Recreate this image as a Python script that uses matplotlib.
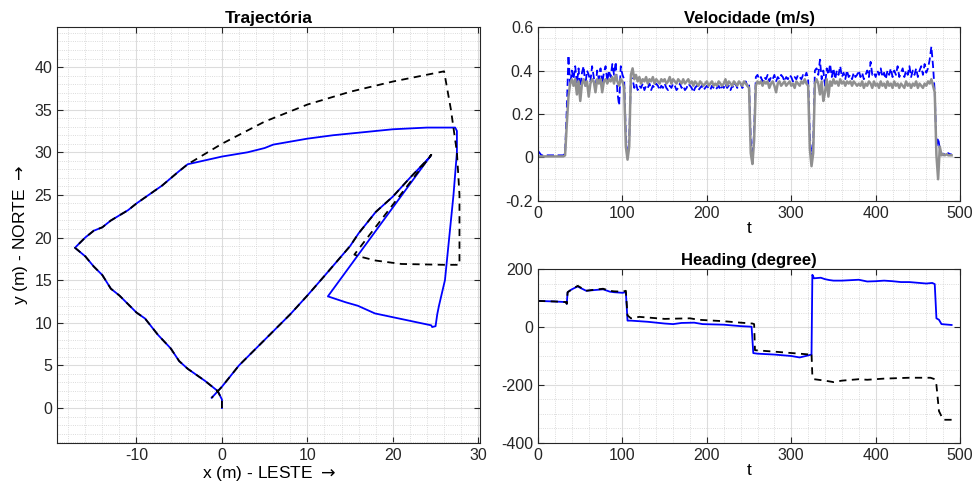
import numpy as np
import matplotlib
matplotlib.use("Agg")
import matplotlib.pyplot as plt
from matplotlib.ticker import MultipleLocator

plt.rcParams['font.family'] = ['Liberation Sans', 'DejaVu Sans']
plt.rcParams['axes.unicode_minus'] = False
plt.rcParams['mathtext.fontset'] = 'dejavusans'

# trajectory, estimated (blue)
est_x = [0.0, 0.0, -0.5, -2.0, -4.0, -5.0, -6.0, -7.5, -9.0, -10.0, -12.0, -13.0, -14.0, -15.0,
         -16.0, -17.2, -16.0, -15.0, -14.0, -13.0, -11.0, -10.0, -9.0, -7.0, -5.0, -4.0, 0.0, 3.0,
         5.0, 6.0, 10.0, 13.0, 17.0, 20.0, 24.0, 27.3, 27.5, 27.5, 27.1, 26.6, 26.1, 25.4, 25.2,
         25.0, 24.6, 24.5, 17.9, 15.9, 14.5, 12.4, 24.5, 24.2, 22.0, 20.0, 18.0, 16.0, 15.0, 12.0,
         10.0, 8.0, 6.0, 4.0, 2.0, 0.0, -1.2]
est_y = [0.0, 1.0, 2.0, 3.2, 4.6, 5.5, 7.0, 8.6, 10.5, 11.2, 13.2, 14.0, 15.6, 16.6,
         17.8, 18.8, 20.0, 20.8, 21.2, 22.0, 23.2, 24.0, 24.7, 26.1, 27.8, 28.6, 29.5, 30.0,
         30.5, 30.9, 31.6, 32.0, 32.4, 32.7, 32.9, 32.9, 32.5, 30.0, 25.0, 20.0, 15.0, 12.0, 11.0,
         9.6, 9.5, 9.7, 11.1, 12.0, 12.4, 13.1, 29.7, 29.3, 27.0, 24.8, 23.0, 20.5, 19.0, 15.5,
         13.2, 11.0, 9.0, 7.0, 5.0, 2.5, 1.2]

# trajectory, reference (black dashed)
ref_x = [0.0, 0.0, -0.5, -2.0, -4.0, -5.0, -6.0, -7.5, -9.0, -10.0, -12.0, -13.0, -14.0, -15.0,
         -16.0, -17.2, -16.0, -15.0, -14.0, -13.0, -11.0, -10.0, -9.0, -7.0, -5.0, -4.0, 0.0, 5.0,
         10.0, 15.0, 20.0, 26.0, 26.8, 27.5, 27.8, 27.8, 27.8, 26.0, 21.0, 18.0, 16.0, 15.5, 24.5,
         24.2, 22.0, 20.0, 18.0, 16.0, 15.0, 12.0, 10.0, 8.0, 6.0, 4.0, 2.0, 0.0, -1.2]
ref_y = [0.0, 1.0, 2.0, 3.2, 4.6, 5.5, 7.0, 8.6, 10.5, 11.2, 13.2, 14.0, 15.6, 16.6,
         17.8, 18.8, 20.0, 20.8, 21.2, 22.0, 23.2, 24.0, 24.7, 26.1, 27.8, 28.6, 31.0, 33.6,
         35.6, 37.1, 38.3, 39.5, 35.0, 30.0, 25.0, 20.0, 16.8, 16.8, 16.9, 17.3, 17.8, 18.0, 29.7,
         29.3, 27.0, 24.8, 23.0, 20.5, 19.0, 15.5, 13.2, 11.0, 9.0, 7.0, 5.0, 2.5, 1.2]

# velocity, sampled every 2 s
vel_blue = [0.03, 0.02, 0.01, 0.01, 0.01, 0.01, 0.01, 0.01, 0.01, 0.01, 0.01, 0.01, 0.01, 0.01, 0.01, 0.01,
            0.02, 0.22, 0.47, 0.33, 0.40, 0.36, 0.42, 0.34, 0.41, 0.30,
            0.39, 0.42, 0.33, 0.40, 0.38, 0.35, 0.42, 0.37, 0.31, 0.40,
            0.36, 0.41, 0.34, 0.39, 0.42, 0.35, 0.40, 0.37, 0.43, 0.38,
            0.44, 0.30, 0.24, 0.42, 0.38, 0.36, 0.10, 0.00, 0.08, 0.37,
            0.36, 0.32, 0.34, 0.31, 0.33, 0.32, 0.34, 0.31, 0.33, 0.32,
            0.34, 0.31, 0.33, 0.32, 0.34, 0.33, 0.31, 0.33, 0.32, 0.34,
            0.32, 0.31, 0.33, 0.32, 0.34, 0.33, 0.31, 0.32, 0.34, 0.32,
            0.33, 0.31, 0.32, 0.34, 0.33, 0.32, 0.30, 0.32, 0.33, 0.31,
            0.32, 0.33, 0.31, 0.32, 0.33, 0.32, 0.31, 0.33, 0.32, 0.31,
            0.32, 0.33, 0.31, 0.33, 0.32, 0.34, 0.32, 0.33, 0.31, 0.33,
            0.32, 0.34, 0.32, 0.33, 0.34, 0.32, 0.33, 0.35, 0.33, 0.34,
            0.08, 0.00, 0.12, 0.37, 0.38, 0.36, 0.37, 0.35, 0.37, 0.36,
            0.38, 0.35, 0.37, 0.36, 0.38, 0.35, 0.37, 0.36, 0.38, 0.37,
            0.35, 0.37, 0.36, 0.38, 0.37, 0.35, 0.37, 0.36, 0.38, 0.37,
            0.36, 0.38, 0.37, 0.39, 0.36, 0.10, 0.00, 0.06, 0.40, 0.41,
            0.38, 0.45, 0.36, 0.40, 0.33, 0.41, 0.38, 0.43, 0.37, 0.41,
            0.36, 0.40, 0.38, 0.42, 0.37, 0.39, 0.36, 0.40, 0.37, 0.38,
            0.36, 0.39, 0.37, 0.38, 0.40, 0.37, 0.39, 0.36, 0.38, 0.40,
            0.37, 0.44, 0.38, 0.39, 0.37, 0.40, 0.38, 0.41, 0.37, 0.39,
            0.36, 0.40, 0.38, 0.41, 0.37, 0.40, 0.38, 0.42, 0.37, 0.39,
            0.41, 0.37, 0.40, 0.38, 0.42, 0.37, 0.40, 0.38, 0.41, 0.37,
            0.40, 0.42, 0.38, 0.43, 0.39, 0.41, 0.45, 0.51, 0.42, 0.30,
            0.05, 0.09, 0.04, 0.02, 0.01, 0.02, 0.015, 0.02, 0.015, 0.015]
vel_gray = [0.005, 0.005, 0.005, 0.005, 0.005, 0.005, 0.005, 0.005, 0.005, 0.005, 0.005, 0.005, 0.005, 0.005, 0.005, 0.005,
            0.01, 0.15, 0.28, 0.34, 0.36, 0.33, 0.36, 0.29, 0.35, 0.26,
            0.34, 0.36, 0.33, 0.35, 0.28, 0.34, 0.36, 0.35, 0.30, 0.36,
            0.34, 0.36, 0.30, 0.35, 0.36, 0.34, 0.36, 0.35, 0.37, 0.34,
            0.38, 0.35, 0.33, 0.36, 0.35, 0.32, 0.05, -0.01, 0.05, 0.38,
            0.41, 0.36, 0.38, 0.35, 0.37, 0.34, 0.36, 0.35, 0.37, 0.34,
            0.36, 0.35, 0.37, 0.34, 0.36, 0.35, 0.34, 0.36, 0.35, 0.36,
            0.34, 0.35, 0.37, 0.34, 0.36, 0.35, 0.34, 0.36, 0.35, 0.34,
            0.36, 0.34, 0.35, 0.36, 0.34, 0.35, 0.33, 0.35, 0.34, 0.33,
            0.35, 0.34, 0.33, 0.34, 0.35, 0.33, 0.34, 0.35, 0.33, 0.34,
            0.33, 0.35, 0.34, 0.33, 0.34, 0.36, 0.33, 0.35, 0.34, 0.33,
            0.35, 0.34, 0.33, 0.35, 0.34, 0.33, 0.35, 0.34, 0.33, 0.32,
            0.02, -0.03, 0.08, 0.33, 0.35, 0.34, 0.35, 0.33, 0.35, 0.34,
            0.35, 0.32, 0.34, 0.35, 0.33, 0.30, 0.34, 0.35, 0.33, 0.34,
            0.35, 0.33, 0.34, 0.35, 0.33, 0.34, 0.32, 0.35, 0.34, 0.33,
            0.35, 0.34, 0.36, 0.34, 0.33, 0.04, -0.04, 0.02, 0.34, 0.36,
            0.34, 0.29, 0.35, 0.26, 0.30, 0.36, 0.28, 0.35, 0.33, 0.36,
            0.34, 0.35, 0.33, 0.36, 0.34, 0.35, 0.33, 0.35, 0.34, 0.35,
            0.33, 0.35, 0.34, 0.33, 0.34, 0.33, 0.35, 0.32, 0.34, 0.33,
            0.35, 0.34, 0.32, 0.35, 0.33, 0.34, 0.32, 0.35, 0.33, 0.34,
            0.32, 0.35, 0.33, 0.34, 0.32, 0.35, 0.33, 0.34, 0.32, 0.34,
            0.33, 0.32, 0.35, 0.33, 0.34, 0.32, 0.34, 0.33, 0.35, 0.32,
            0.34, 0.33, 0.32, 0.34, 0.33, 0.35, 0.34, 0.36, 0.33, 0.30,
            0.01, -0.10, 0.05, 0.01, 0.015, 0.01, 0.015, 0.01, 0.01, 0.01]
t_blue = np.arange(len(vel_blue)) * 2
t_gray = np.arange(len(vel_gray)) * 2

# heading
hd_t = [0, 20, 33, 34, 35, 40, 47, 50, 57, 65, 77, 85, 90, 100, 104, 106, 110, 130, 150, 160, 170,
        185, 195, 220, 240, 253, 255, 260, 280, 300, 310, 320, 324, 325, 327, 335, 340, 345, 350,
        360, 380, 390, 400, 410, 420, 430, 440, 460, 467, 470, 472, 475, 478, 490]
hd_blue = [90, 88, 86, 80, 120, 130, 140, 135, 125, 127, 130, 122, 120, 118, 120, 22, 22, 18, 12, 10, 14,
           15, 10, 8, 3, 1, -90, -92, -95, -100, -105, -98, -95, 180, 168, 170, 165, 162, 160,
           160, 163, 157, 158, 160, 158, 155, 155, 150, 152, 148, 30, 25, 10, 7]
hd_ref_t = [0, 20, 33, 34, 35, 40, 47, 50, 57, 65, 77, 85, 90, 100, 104, 106, 110, 120, 150, 180,
            190, 220, 240, 254, 256, 257, 280, 310, 322, 324, 325, 327, 340, 350, 360, 380, 390,
            410, 440, 465, 470, 472, 475, 480, 490]
hd_ref = [90, 88, 86, 80, 120, 130, 142, 137, 125, 128, 132, 125, 123, 122, 125, 40, 30, 35, 28, 30,
          25, 20, 15, 12, 10, -80, -85, -92, -95, -90, -170, -180, -185, -190, -185, -180, -182,
          -178, -175, -175, -180, -200, -290, -320, -320]

fig = plt.figure(figsize=(9.73, 4.97), dpi=100)
ax1 = fig.add_axes([0.0586, 0.1087, 0.4347, 0.837])
ax2 = fig.add_axes([0.553, 0.5956, 0.4337, 0.350])
ax3 = fig.add_axes([0.553, 0.1087, 0.4337, 0.350])

ax1.plot(est_x, est_y, color='blue', lw=1.3)
ax1.plot(ref_x, ref_y, color='black', lw=1.3, ls=(0, (4, 3)))
ax1.set_xlim(-19.3, 30.2)
ax1.set_ylim(-4.1, 44.7)
ax1.xaxis.set_major_locator(MultipleLocator(10))
ax1.xaxis.set_minor_locator(MultipleLocator(2))
ax1.yaxis.set_major_locator(MultipleLocator(5))
ax1.yaxis.set_minor_locator(MultipleLocator(1))
ax1.set_title('Trajectória', fontweight='bold', fontsize=12.5, pad=3)
ax1.set_xlabel(r'x (m) - LESTE $\rightarrow$', fontsize=12.5, labelpad=1)
ax1.set_ylabel(r'y (m) - NORTE $\rightarrow$', fontsize=12.5, labelpad=3)

ax2.plot(t_blue, vel_blue, color='blue', lw=1.3, ls=(0, (4, 2)))
ax2.plot(t_gray, vel_gray, color='#909090', lw=1.8)
ax2.set_xlim(0, 500)
ax2.set_ylim(-0.2, 0.6)
ax2.xaxis.set_major_locator(MultipleLocator(100))
ax2.xaxis.set_minor_locator(MultipleLocator(20))
ax2.yaxis.set_major_locator(MultipleLocator(0.2))
ax2.yaxis.set_minor_locator(MultipleLocator(0.05))
ax2.set_yticks([-0.2, 0, 0.2, 0.4, 0.6])
ax2.set_yticklabels(['-0.2', '0', '0.2', '0.4', '0.6'])
ax2.set_title('Velocidade (m/s)', fontweight='bold', fontsize=12, pad=3)
ax2.set_xlabel('t', fontsize=12.5, labelpad=0)

ax3.plot(hd_t, hd_blue, color='blue', lw=1.3)
ax3.plot(hd_ref_t, hd_ref, color='black', lw=1.3, ls=(0, (4, 3)))
ax3.set_xlim(0, 500)
ax3.set_ylim(-400, 200)
ax3.xaxis.set_major_locator(MultipleLocator(100))
ax3.xaxis.set_minor_locator(MultipleLocator(20))
ax3.yaxis.set_major_locator(MultipleLocator(200))
ax3.yaxis.set_minor_locator(MultipleLocator(50))
ax3.set_title('Heading (degree)', fontweight='bold', fontsize=12, pad=3)
ax3.set_xlabel('t', fontsize=12.5, labelpad=0)

for ax in (ax1, ax2, ax3):
    ax.grid(which='major', color='#dcdcdc', lw=0.8)
    ax.grid(which='minor', color='#d0d0d0', lw=0.6, ls=':')
    ax.set_axisbelow(True)
    ax.tick_params(which='both', direction='in', top=True, right=True, colors='#262626',
                   labelsize=11.5, labelcolor='#262626')
    ax.tick_params(which='major', length=4)
    ax.tick_params(which='minor', length=0)
    for s in ax.spines.values():
        s.set_color('#262626')
        s.set_linewidth(0.8)

fig.savefig('out.png', dpi=100)
